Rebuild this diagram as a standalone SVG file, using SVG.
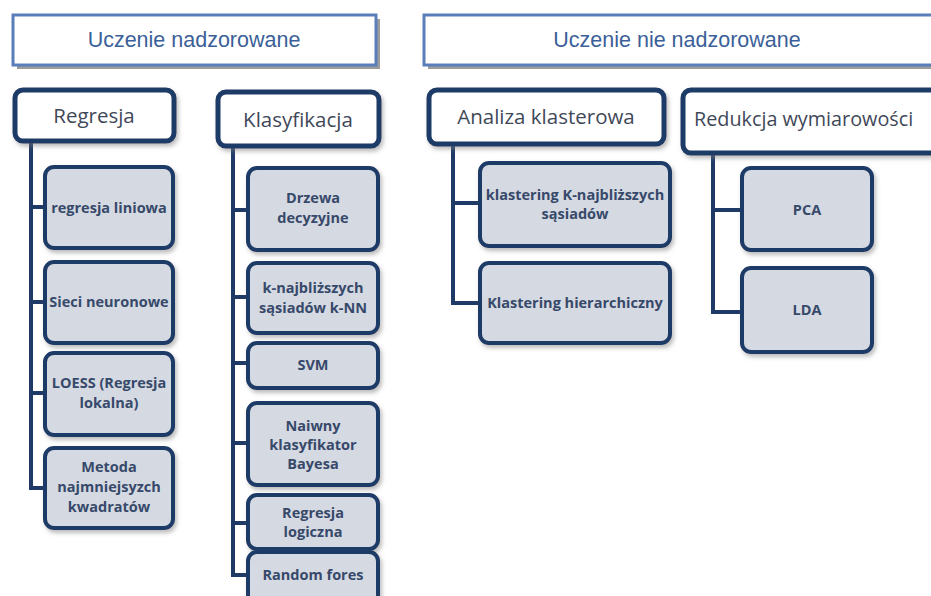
<svg xmlns="http://www.w3.org/2000/svg" width="931" height="596" viewBox="0 0 931 596">
<defs>
<filter id="sh" x="-10%" y="-10%" width="130%" height="140%">
<feDropShadow dx="2" dy="3" stdDeviation="2" flood-color="#7a7a7a" flood-opacity="0.5"/>
</filter>
<style>
.banner{fill:#ffffff;stroke:#5a7fb8;stroke-width:3}
.bshadow{fill:#9c9c9c}
.btxt{font-family:"Liberation Sans",Arial,sans-serif;font-size:21.5px;fill:#3b5f98;text-anchor:middle}
.head{fill:#ffffff;stroke:#1f3a66;stroke-width:5;filter:url(#sh)}
.htxt{font-family:"Open Sans",sans-serif;font-size:20.5px;fill:#3f4858;text-anchor:middle}
.child{fill:#d5d9e1;stroke:#1f3a66;stroke-width:4;filter:url(#sh)}
.ctxt{font-family:"Open Sans",sans-serif;font-weight:700;font-size:14.5px;fill:#37496a;text-anchor:middle}
.conn{fill:none;stroke:#1f3a66;stroke-width:4}
</style>
</defs>
<rect width="931" height="596" fill="#ffffff"/>

<g id="connectors">
<path class="conn" d="M31 141 V488 H47 M31 207 H47 M31 302 H47 M31 393 H47"/>
<path class="conn" d="M233 146 V575 H250 M233 210 H250 M233 297 H250 M233 363 H250 M233 443 H250 M233 523 H250"/>
<path class="conn" d="M453 144 V303 H482 M453 203 H482"/>
<path class="conn" d="M713 153 V312 H744 M713 210 H744"/>
</g>

<g id="banner-nadzorowane">
<rect class="bshadow" x="17" y="19" width="363" height="50"/>
<rect class="banner" x="13" y="15" width="363" height="50"/>
<text class="btxt" x="194" y="47">Uczenie nadzorowane</text>
</g>
<g id="banner-nienadzorowane">
<rect class="bshadow" x="428" y="19" width="520" height="50"/>
<rect class="banner" x="424" y="15" width="520" height="50"/>
<text class="btxt" x="677" y="47">Uczenie nie nadzorowane</text>
</g>

<g id="regresja">
<rect class="head" x="15" y="90" width="159" height="51" rx="8"/>
<text class="htxt" x="94" y="123">Regresja</text>
</g>
<g id="klasyfikacja">
<rect class="head" x="218" y="92" width="161" height="54" rx="8"/>
<text class="htxt" x="298" y="127">Klasyfikacja</text>
</g>
<g id="analiza">
<rect class="head" x="429" y="90" width="235" height="54" rx="8"/>
<text class="htxt" x="546" y="124">Analiza klasterowa</text>
</g>
<g id="redukcja">
<rect class="head" x="683" y="90" width="262" height="63" rx="8"/>
<text class="htxt" x="694" y="126" style="text-anchor:start;font-size:19.8px">Redukcja wymiarowości</text>
</g>

<g id="regresja-liniowa">
<rect class="child" x="45" y="167" width="128" height="81" rx="9"/>
<text class="ctxt" x="109" y="213">regresja liniowa</text>
</g>
<g id="sieci-neuronowe">
<rect class="child" x="45" y="262" width="128" height="81" rx="9"/>
<text class="ctxt" x="109" y="307">Sieci neuronowe</text>
</g>
<g id="loess">
<rect class="child" x="45" y="353" width="128" height="82" rx="9"/>
<text class="ctxt" x="109" y="388">LOESS (Regresja</text>
<text class="ctxt" x="109" y="408">lokalna)</text>
</g>
<g id="metoda">
<rect class="child" x="45" y="448" width="128" height="80" rx="9"/>
<text class="ctxt" x="109" y="472">Metoda</text>
<text class="ctxt" x="109" y="492">najmniejsyzch</text>
<text class="ctxt" x="109" y="512">kwadratów</text>
</g>

<g id="drzewa">
<rect class="child" x="248" y="168" width="130" height="82" rx="9"/>
<text class="ctxt" x="313" y="203">Drzewa</text>
<text class="ctxt" x="313" y="223">decyzyjne</text>
</g>
<g id="knn">
<rect class="child" x="248" y="263" width="130" height="70" rx="9"/>
<text class="ctxt" x="313" y="293">k-najbliższych</text>
<text class="ctxt" x="313" y="313">sąsiadów k-NN</text>
</g>
<g id="svm">
<rect class="child" x="248" y="343" width="130" height="45" rx="9"/>
<text class="ctxt" x="313" y="370">SVM</text>
</g>
<g id="bayes">
<rect class="child" x="248" y="403" width="130" height="82" rx="9"/>
<text class="ctxt" x="313" y="431">Naiwny</text>
<text class="ctxt" x="313" y="450">klasyfikator</text>
<text class="ctxt" x="313" y="469">Bayesa</text>
</g>
<g id="regresja-logiczna">
<rect class="child" x="248" y="495" width="130" height="54" rx="9"/>
<text class="ctxt" x="313" y="518">Regresja</text>
<text class="ctxt" x="313" y="537">logiczna</text>
</g>
<g id="random-forest">
<rect class="child" x="248" y="552" width="130" height="70" rx="9"/>
<text class="ctxt" x="313" y="580">Random fores</text>
</g>

<g id="klastering-knn">
<rect class="child" x="480" y="163" width="190" height="83" rx="9"/>
<text class="ctxt" x="575" y="200">klastering K-najbliższych</text>
<text class="ctxt" x="575" y="219">sąsiadów</text>
</g>
<g id="klastering-hier">
<rect class="child" x="480" y="263" width="190" height="80" rx="9"/>
<text class="ctxt" x="575" y="308">Klastering hierarchiczny</text>
</g>

<g id="pca">
<rect class="child" x="742" y="168" width="130" height="82" rx="9"/>
<text class="ctxt" x="807" y="215">PCA</text>
</g>
<g id="lda">
<rect class="child" x="742" y="268" width="130" height="84" rx="9"/>
<text class="ctxt" x="807" y="315">LDA</text>
</g>
</svg>
